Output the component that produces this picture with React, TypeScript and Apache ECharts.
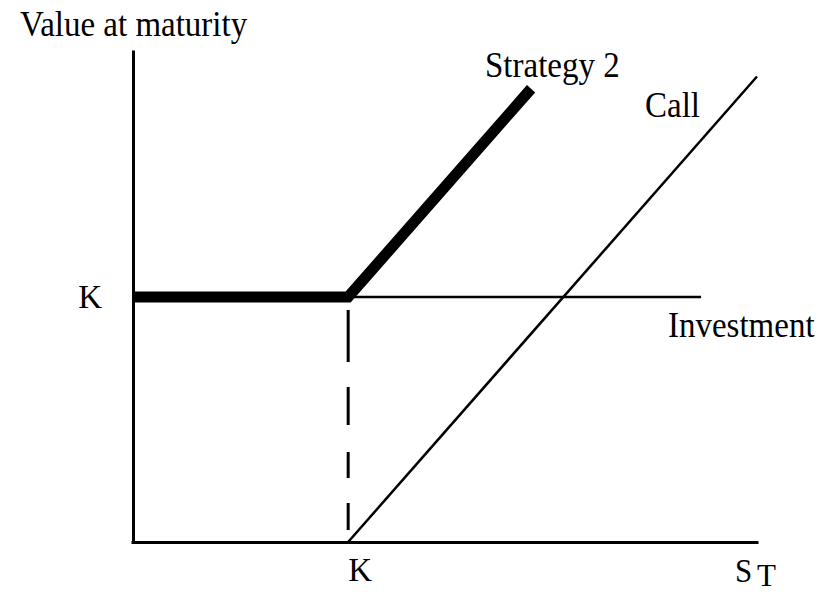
import React, { useEffect, useRef } from "react";
import * as echarts from "echarts";

// Strike and axis ranges (data units)
const strike = 100;
const xRange = [0, 290];
const yRange = [0, 200];

// Series values: [S_T, value at maturity]
const strategy2 = [
  [0, 100],
  [100, 100],
  [185, 185],
];
const callPayoff = [
  [100, 0],
  [290, 190],
];
const investment = [
  [0, 100],
  [264, 100],
];
const strikeGuide = [
  [100, 100],
  [100, 0],
];

// Texts
const yAxisTitle = "Value at maturity";
const xAxisTitleMain = "S";
const xAxisTitleSub = "T";
const tickLabel = "K";
const labelStrategy = "Strategy 2";
const labelCall = "Call";
const labelInvestment = "Investment";

const FONT = '"Liberation Serif", "Times New Roman", serif';
const FS = 33;

export default function App() {
  const ref = useRef<HTMLDivElement>(null);

  useEffect(() => {
    if (!ref.current) return;
    const chart = echarts.init(ref.current, null, { renderer: "svg" });

    const axisCommon = {
      type: "value" as const,
      splitLine: { show: false },
      axisTick: { show: false },
      axisLine: { show: true, lineStyle: { color: "#000", width: 3, cap: "square" } },
    };

    const textEl = (text: string, x: number, y: number, size = FS, sy = 1.1) => ({
      type: "text",
      x,
      y,
      scaleY: sy,
      silent: true,
      style: {
        text,
        fill: "#000",
        font: `${size}px ${FONT}`,
        verticalAlign: "middle",
        align: "left",
      },
    });

    chart.setOption({
      animation: false,
      backgroundColor: "#fff",
      grid: { left: 133, right: 68, top: 52, bottom: 50, containLabel: false },
      xAxis: {
        ...axisCommon,
        min: xRange[0],
        max: xRange[1],
        axisLabel: {
          customValues: [strike],
          formatter: () => tickLabel,
          color: "#000",
          fontFamily: FONT,
          fontSize: FS,
          margin: 11,
          align: "left",
          verticalAlign: "top",
        },
      },
      yAxis: {
        ...axisCommon,
        min: yRange[0],
        max: yRange[1],
        axisLabel: {
          customValues: [strike],
          formatter: () => tickLabel,
          color: "#000",
          fontFamily: FONT,
          fontSize: FS,
          margin: 31,
          verticalAlign: "middle",
        },
      },
      graphic: [
        textEl(yAxisTitle, 20, 24),
        textEl(labelStrategy, 485, 65),
        textEl(labelCall, 645, 105),
        textEl(labelInvestment, 668, 325),
        textEl(xAxisTitleMain, 735, 570, 31),
        textEl(xAxisTitleSub, 757, 575, 31, 1),
      ],
      series: [
        {
          type: "line",
          data: investment,
          showSymbol: false,
          silent: true,
          lineStyle: { color: "#000", width: 2.5 },
        },
        {
          type: "line",
          data: callPayoff,
          showSymbol: false,
          silent: true,
          lineStyle: { color: "#000", width: 2.5 },
        },
        {
          type: "line",
          data: strikeGuide,
          showSymbol: false,
          silent: true,
          lineStyle: {
            color: "#000",
            width: 3,
            type: [0, 13, 52, 25, 38, 27, 26, 25, 27, 60],
          },
        },
        {
          type: "line",
          data: strategy2,
          showSymbol: false,
          silent: true,
          lineStyle: { color: "#000", width: 11, join: "miter" },
        },
      ],
    });

    return () => chart.dispose();
  }, []);

  return (
    <div
      ref={ref}
      style={{ position: "fixed", left: 0, top: 0, width: 825, height: 592, background: "#fff" }}
    />
  );
}
